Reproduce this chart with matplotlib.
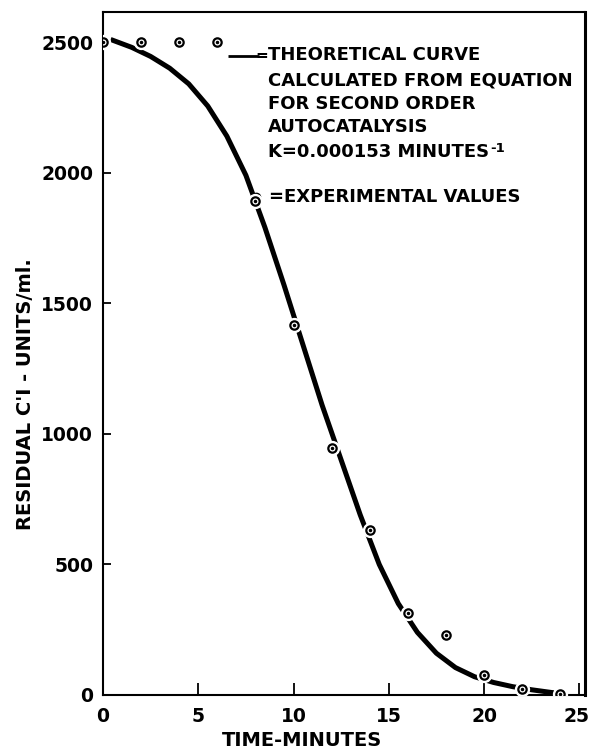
import matplotlib
matplotlib.use("Agg")
import matplotlib.pyplot as plt
import matplotlib.transforms as mtransforms

plt.rcParams['font.family'] = ['DejaVu Sans']
plt.rcParams['font.weight'] = 'bold'

# experimental values
exp_t = [0, 2, 4, 6, 8, 10, 12, 14, 16, 18, 20, 22, 24]
exp_v = [2500, 2500, 2500, 2500, 1890, 1418, 946, 632, 313, 230, 77, 22, 5]

# theoretical curve
curve_t = [0.4, 1.5, 2.5, 3.5, 4.5, 5.5, 6.5, 7.5, 8.5, 9.5, 10.5, 11.5, 12.5,
           13.5, 14.5, 15.5, 16.5, 17.5, 18.5, 19.5, 20.5, 21.5, 22.5, 23.5, 24.0]
curve_v = [2510, 2480, 2445, 2400, 2340, 2255, 2140, 1990, 1790, 1570, 1340, 1110, 900,
           690, 500, 350, 240, 160, 105, 70, 48, 32, 20, 10, 6]

x_ticks = [0, 5, 10, 15, 20, 25]
y_ticks = [0, 500, 1000, 1500, 2000, 2500]

x_label = "TIME-MINUTES"
y_label = "RESIDUAL C'I - UNITS/ml."
legend_lines = ["THEORETICAL CURVE", "CALCULATED FROM EQUATION", "FOR SECOND ORDER",
                "AUTOCATALYSIS", "K=0.000153 MINUTES"]
legend_sup = "-1"
legend_exp = "=EXPERIMENTAL VALUES"

W, H = 590, 753
AX_L, AX_R, AX_T, AX_B = 103, 585, 12.3, 695
fig = plt.figure(figsize=(W / 100, H / 100), dpi=100)
ax = fig.add_axes([AX_L / W, 1 - AX_B / H, (AX_R - AX_L) / W, (AX_B - AX_T) / H])


def fx(px):
    return (px - AX_L) / (AX_R - AX_L)


def fy(py):
    return 1 - (py - AX_T) / (AX_B - AX_T)


ax.plot(curve_t, curve_v, color='black', lw=3.6, solid_capstyle='butt', zorder=2)
ax.plot(exp_t, exp_v, ls='none', marker='o', ms=10, mfc='white', mec='white', zorder=3)
ax.plot(exp_t, exp_v, ls='none', marker='o', ms=6, mfc='white', mec='black', mew=1.6, zorder=4)
ax.plot(exp_t, exp_v, ls='none', marker='o', ms=1.5, mfc='black', mec='black', zorder=5)

ax.set_xlim(0, 25.3)
ax.set_ylim(0, 2614)
ax.set_xticks(x_ticks)
ax.set_yticks(y_ticks)
ax.set_xticklabels([str(v) for v in x_ticks])
ax.set_yticklabels([str(v) for v in y_ticks])
ax.tick_params(axis='x', direction='in', length=8.5, width=1.3, pad=9, labelsize=13.5)
ax.tick_params(axis='y', direction='in', length=6, width=1.3, pad=7, labelsize=13.5)
# keep the last x tick label inside the figure edge
last = ax.get_xticklabels()[-1]
last.set_transform(last.get_transform() +
                   mtransforms.ScaledTranslation(-3 / 100, 0, fig.dpi_scale_trans))
for s in ax.spines.values():
    s.set_linewidth(1.5)
ax.spines['right'].set_linewidth(2.2)

fig.text(302 / W, 1 - 740 / H, x_label, ha='center', va='center',
         fontsize=14, fontweight='bold')
fig.text(26 / W, 1 - 394 / H, y_label, ha='center', va='center', rotation=90,
         fontsize=14, fontweight='bold')

# legend
ax.plot([fx(228), fx(259)], [fy(56), fy(56)], transform=ax.transAxes,
        color='black', lw=2.0, solid_capstyle='butt')
ax.text(fx(268), fy(55), "=", transform=ax.transAxes, ha='right', va='center',
        fontsize=11, fontweight='bold')
line_py = [55, 81, 104, 127, 152]
txts = []
for s, py in zip(legend_lines, line_py):
    txts.append(ax.text(fx(268), fy(py), s, transform=ax.transAxes, ha='left',
                        va='center', fontsize=13, fontweight='bold'))
fig.canvas.draw()
bb = txts[-1].get_window_extent()
ax.annotate(legend_sup, xy=(bb.x1, bb.y1), xycoords='figure pixels',
            xytext=(1, -4), textcoords='offset points', ha='left', va='center',
            fontsize=9.5, fontweight='bold')
ax.plot([fx(256)], [fy(197)], transform=ax.transAxes, marker='o', ms=6, color='black')
ax.text(fx(269), fy(197), legend_exp, transform=ax.transAxes, ha='left', va='center',
        fontsize=13, fontweight='bold')

fig.savefig("out.png", dpi=100)
